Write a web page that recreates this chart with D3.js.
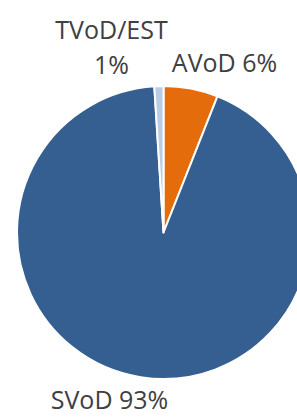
<!DOCTYPE html>
<html>
<head>
<meta charset="utf-8">
<script src="https://cdn.jsdelivr.net/npm/d3@7"></script>
<style>
  html, body { margin: 0; padding: 0; background: #fff; overflow: hidden; }
  text { font-family: "Open Sans", sans-serif; fill: #404040; }
</style>
</head>
<body>
<svg id="chart"></svg>
<script>
// slice order follows the source: clockwise from 12 o'clock
const categories = ["AVoD", "SVoD", "TVoD/EST"];
const values = [6, 93, 1];
const labels = [["AVoD 6%"], ["SVoD 93%"], ["TVoD/EST", "1%"]];
const colors = ["#E46C0A", "#365F91", "#B9CDE5"];

const width = 297, height = 417;
const cx = 163.5, cy = 232.5, radius = 146.5;

const svg = d3.select("#chart")
    .attr("width", width)
    .attr("height", height);

const g = svg.append("g")
    .attr("transform", `translate(${cx}, ${cy})`);

const pie = d3.pie().sort(null).value(d => d);
const arc = d3.arc().innerRadius(0).outerRadius(radius);
const color = d3.scaleOrdinal().domain(categories).range(colors);

const arcs = pie(values);

g.selectAll("path")
    .data(arcs)
    .join("path")
    .attr("d", arc)
    .attr("fill", (d, i) => color(categories[i]))
    .attr("stroke", "#fff")
    .attr("stroke-width", 2)
    .attr("stroke-linejoin", "round");

// label anchors, offsets from the pie centre (tuned by eye)
const labelPos = [
    { x: 61, y: -161 },
    { x: -54, y: 176 },
    { x: -52, y: -194 }
];
const lineHeight = 35;

g.selectAll("text.lbl")
    .data(labels)
    .join("text")
    .attr("class", "lbl")
    .attr("text-anchor", "middle")
    .attr("font-size", 25)
    .attr("transform", (d, i) => `translate(${labelPos[i].x}, ${labelPos[i].y})`)
    .selectAll("tspan")
    .data(d => d)
    .join("tspan")
    .attr("x", 0)
    .attr("dy", (d, i) => i === 0 ? 0 : lineHeight)
    .text(d => d);
</script>
</body>
</html>
